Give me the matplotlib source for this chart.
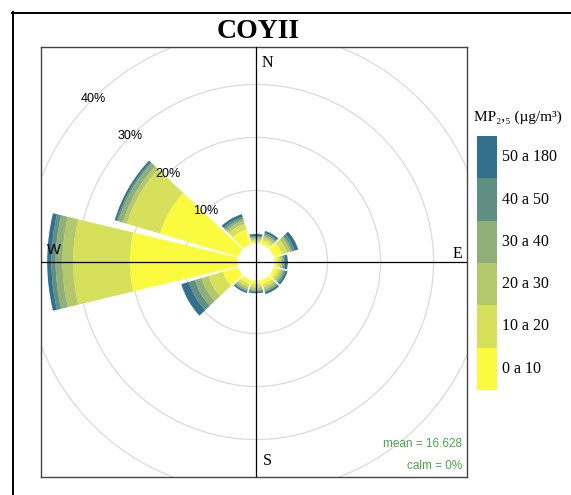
# =========================================================
# IMPORTS
# =========================================================

import numpy as np
import matplotlib
matplotlib.use("Agg")
import matplotlib.pyplot as plt
from matplotlib.patches import Wedge, Circle
from matplotlib.lines import Line2D

# =========================================================
# DADOS (frequencia % por direcao e faixa de concentracao)
# =========================================================

direcoes = [0, 30, 60, 90, 120, 150, 180, 210, 240, 270, 300, 330]

faixa_0_10   = [0.4, 0.7, 1.6, 0.6, 0.8, 0.9, 0.7, 0.8, 3.0, 20.3, 15.4, 2.9]
faixa_10_20  = [0.3, 0.5, 1.0, 0.5, 0.5, 0.6, 0.6, 0.6, 2.8, 10.7,  6.5, 1.1]
faixa_20_30  = [0.3, 0.4, 0.6, 0.3, 0.4, 0.4, 0.4, 0.4, 1.4,  2.0,  0.8, 0.6]
faixa_30_40  = [0.2, 0.3, 0.4, 0.3, 0.3, 0.3, 0.2, 0.3, 1.3,  1.3,  0.9, 0.4]
faixa_40_50  = [0.2, 0.3, 0.5, 0.3, 0.3, 0.2, 0.2, 0.2, 1.2,  0.8,  0.3, 0.4]
faixa_50_180 = [0.4, 0.4, 0.7, 0.5, 0.4, 0.4, 0.3, 0.3, 1.5,  0.8,  0.4, 0.5]

faixas = [faixa_0_10, faixa_10_20, faixa_20_30, faixa_30_40, faixa_40_50, faixa_50_180]
rotulos = ["0 a 10", "10 a 20", "20 a 30", "30 a 40", "40 a 50", "50 a 180"]
cores = ["#FAFA3E", "#D6E05B", "#B3C86B", "#8FAF78", "#5F8F82", "#33708C"]

grade = [10, 20, 30, 40]

titulo = "COYII"
media = 16.628
calmaria = 0

# =========================================================
# LAYOUT
# =========================================================

W, H = 571, 495
OFF = 3.5          # buraco central (em %)
ESC = 5.3          # px por %
LARG = 27          # largura angular do setor

fig = plt.figure(figsize=(W / 100, H / 100), dpi=100)
fig.patch.set_facecolor("white")

# moldura externa (cortada)
fig.add_artist(Line2D([12.5 / W, 12.5 / W], [0, 1 - 12 / H], color="black", lw=1.4))
fig.add_artist(Line2D([12 / W, 1], [1 - 12.5 / H, 1 - 12.5 / H], color="black", lw=1.4))

px_l, px_r, px_t, px_b = 41, 467, 47, 477
cx, cy = 256, 262
ax = fig.add_axes([px_l / W, 1 - px_b / H, (px_r - px_l) / W, (px_b - px_t) / H])
ax.set_xlim(-(cx - px_l) / ESC, (px_r - cx) / ESC)
ax.set_ylim(-(px_b - cy) / ESC, (cy - px_t) / ESC)
ax.set_aspect("equal")
ax.set_xticks([])
ax.set_yticks([])
for s in ax.spines.values():
    s.set_color("#444444")
    s.set_linewidth(1.0)

# ---------------------------------------------------------
# Grade circular
# ---------------------------------------------------------

for g in grade:
    ax.add_patch(Circle((0, 0), OFF + g, fill=False, ec="#DADADA", lw=0.9, zorder=1))
    a = np.deg2rad(135)
    ax.text((OFF + g) * np.cos(a), (OFF + g) * np.sin(a), f"{g}%",
            ha="center", va="center", fontsize=9, family="Liberation Sans",
            color="black", zorder=5)

ax.axhline(0, color="black", lw=0.9, zorder=4)
ax.axvline(0, color="black", lw=0.9, zorder=4)

# ---------------------------------------------------------
# Setores empilhados
# ---------------------------------------------------------

acum = np.zeros(len(direcoes))
for vals, cor in zip(faixas, cores):
    vals = np.array(vals)
    for d, base, v in zip(direcoes, acum, vals):
        ang = 90 - d
        ax.add_patch(Wedge((0, 0), OFF + base + v, ang - LARG / 2, ang + LARG / 2,
                           width=v, fc=cor, ec="none", zorder=2))
    acum = acum + vals

# pontos cardeais
ax.text(1.0, (cy - px_t) / ESC - 3.0, "N", fontsize=11.5, family="Liberation Serif", ha="left", va="center")
ax.text(1.3, -(px_b - cy) / ESC + 3.0, "S", fontsize=11.5, family="Liberation Serif", ha="left", va="center")
ax.text(-(cx - px_l) / ESC + 1.2, 2.3, "W", fontsize=10.5, family="Liberation Sans", ha="left", va="center")
ax.text((px_r - cx) / ESC - 0.8, 1.5, "E", fontsize=11.5, family="Liberation Serif", ha="right", va="center")

# media e calmaria
ax.text(0.988, 0.077, f"mean = {media:.3f}", transform=ax.transAxes, ha="right", va="center",
        fontsize=8.5, family="Liberation Sans", color="#4BA34B")
ax.text(0.988, 0.026, f"calm = {calmaria}%", transform=ax.transAxes, ha="right", va="center",
        fontsize=8.5, family="Liberation Sans", color="#4BA34B")

# titulo
fig.text(258 / W, 1 - 31 / H, titulo, ha="center", va="center", fontsize=20,
         family="Liberation Serif", fontweight="bold")

# =========================================================
# LEGENDA (barra de cores)
# =========================================================

lx0, lx1, ly0, ly1 = 477, 497, 136, 390
cax = fig.add_axes([lx0 / W, 1 - ly1 / H, (lx1 - lx0) / W, (ly1 - ly0) / H])
cax.bar(np.zeros(len(cores)), np.ones(len(cores)), bottom=np.arange(len(cores)),
        width=1, color=cores, edgecolor="none")
cax.set_xlim(-0.5, 0.5)
cax.set_ylim(0, len(cores))
cax.set_xticks([])
cax.set_yticks([])
for s in cax.spines.values():
    s.set_visible(False)
for i, rot in enumerate(rotulos):
    cax.text(1.25, i + 0.5, rot, transform=cax.get_yaxis_transform(), ha="left", va="center",
             fontsize=11.5, family="Liberation Serif")

fig.text(474 / W, 1 - 117 / H, "MP\u2082,\u2085 (\u00b5g/m\u00b3)", ha="left", va="center",
         fontsize=11, family="Liberation Serif")

fig.savefig("out.png", dpi=100, facecolor="white")
